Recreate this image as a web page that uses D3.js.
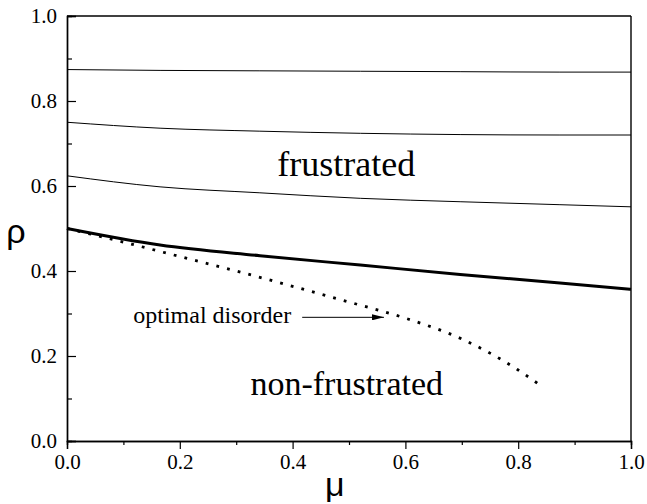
<!DOCTYPE html>
<html>
<head>
<meta charset="utf-8">
<script src="https://cdn.jsdelivr.net/npm/d3@7"></script>
<style>
  body { margin: 0; background: #fff; }
  text { font-family: "Liberation Serif", "Times New Roman", serif; fill: #000; }
</style>
</head>
<body>
<div id="chart-area"></div>
<script>
// Data
const muGrid = [0, 0.165, 0.342, 0.52, 0.697, 0.874, 1.0];
const line875 = [0.874, 0.872, 0.871, 0.870, 0.869, 0.868, 0.868];
const line750 = [0.750, 0.736, 0.729, 0.724, 0.721, 0.720, 0.720];
const line625 = [0.624, 0.598, 0.584, 0.571, 0.563, 0.556, 0.551];
const boundary = [0.500, 0.461, 0.436, 0.414, 0.392, 0.372, 0.357];

const disorderMu = [0, 0.1, 0.2, 0.3, 0.4, 0.5, 0.6, 0.7, 0.8, 0.835];
const disorderRho = [0.500, 0.468, 0.434, 0.400, 0.364, 0.327, 0.289, 0.240, 0.167, 0.135];

const majorTicks = [0, 0.2, 0.4, 0.6, 0.8, 1.0];
const minorTicks = [0.1, 0.3, 0.5, 0.7, 0.9];

const arrowFrom = [0.417, 0.291];
const arrowTo = [0.562, 0.291];

const drawChart = () => {
  // Constants
  let width = 647;
  let height = 504;
  let margin = { left: 67, right: 16, top: 16, bottom: 63 };

  let x = d3.scaleLinear().domain([0, 1]).range([margin.left, width - margin.right]);
  let y = d3.scaleLinear().domain([0, 1]).range([height - margin.bottom, margin.top]);

  let svg = d3.select("#chart-area")
    .append("svg")
      .attr("width", width)
      .attr("height", height);

  // arrow head
  svg.append("defs").append("marker")
      .attr("id", "head")
      .attr("viewBox", "0 0 12 6")
      .attr("refX", 12)
      .attr("refY", 3)
      .attr("markerWidth", 12)
      .attr("markerHeight", 6)
      .attr("markerUnits", "userSpaceOnUse")
      .attr("orient", "auto")
    .append("path")
      .attr("d", "M0,0 L12,3 L0,6 Z")
      .attr("fill", "#000");

  // Axes
  let fmt = d3.format(".1f");
  let axes = svg.append("g")
    .attr("font-family", "'Liberation Serif', serif")
    .attr("font-size", 21);

  axes.append("g")
    .attr("transform", `translate(0, ${y(0)})`)
    .call(d3.axisBottom(x).tickValues(majorTicks).tickFormat(fmt).tickSize(8).tickPadding(5));
  axes.append("g")
    .attr("transform", `translate(0, ${y(0)})`)
    .call(d3.axisBottom(x).tickValues(minorTicks).tickFormat("").tickSize(4));

  axes.append("g")
    .attr("transform", `translate(${x(0)}, 0)`)
    .call(d3.axisLeft(y).tickValues(majorTicks).tickFormat(fmt).tickSize(-9).tickPadding(10));
  axes.append("g")
    .attr("transform", `translate(${x(0)}, 0)`)
    .call(d3.axisLeft(y).tickValues(minorTicks).tickFormat("").tickSize(-5));

  axes.selectAll("g").attr("font-family", null).attr("font-size", null);
  axes.selectAll(".domain").attr("stroke", "#000").attr("stroke-width", 1.4);
  axes.selectAll(".tick line").attr("stroke", "#000").attr("stroke-width", 1.2);
  axes.selectAll(".tick text").attr("fill", "#000");

  // top and right frame
  svg.append("line")
    .attr("x1", x(0)).attr("x2", x(1)).attr("y1", y(1)).attr("y2", y(1))
    .attr("stroke", "#000").attr("stroke-width", 1.4);
  svg.append("line")
    .attr("x1", x(1)).attr("x2", x(1)).attr("y1", y(0)).attr("y2", y(1))
    .attr("stroke", "#000").attr("stroke-width", 1.4);

  // Curves
  let line = d3.line()
    .x((d) => x(d[0]))
    .y((d) => y(d[1]))
    .curve(d3.curveMonotoneX);

  let thin = [line875, line750, line625];
  thin.forEach((vals) => {
    svg.append("path")
      .attr("d", line(d3.zip(muGrid, vals)))
      .attr("fill", "none")
      .attr("stroke", "#000")
      .attr("stroke-width", 1);
  });

  svg.append("path")
    .attr("d", line(d3.zip(muGrid, boundary)))
    .attr("fill", "none")
    .attr("stroke", "#000")
    .attr("stroke-width", 3);

  svg.append("path")
    .attr("d", line(d3.zip(disorderMu, disorderRho)))
    .attr("fill", "none")
    .attr("stroke", "#000")
    .attr("stroke-width", 2.8)
    .attr("stroke-dasharray", "2.8,8.2");

  // Annotations
  svg.append("line")
    .attr("x1", x(arrowFrom[0])).attr("y1", y(arrowFrom[1]))
    .attr("x2", x(arrowTo[0])).attr("y2", y(arrowTo[1]))
    .attr("stroke", "#000")
    .attr("stroke-width", 1)
    .attr("marker-end", "url(#head)");

  svg.append("text")
    .attr("x", x(arrowFrom[0]) - 11)
    .attr("y", y(arrowFrom[1]) + 6)
    .attr("text-anchor", "end")
    .style("font-size", "24px")
    .text("optimal disorder");

  svg.append("text")
    .attr("x", x(0.495))
    .attr("y", y(0.625) + 1)
    .attr("text-anchor", "middle")
    .style("font-size", "36px")
    .text("frustrated");

  svg.append("text")
    .attr("x", x(0.496))
    .attr("y", y(0.108))
    .attr("text-anchor", "middle")
    .style("font-size", "34px")
    .text("non-frustrated");

  // Axis titles
  svg.append("text")
    .attr("x", 16)
    .attr("y", 243)
    .attr("text-anchor", "middle")
    .style("font-family", "'Liberation Sans', Arial, sans-serif")
    .style("font-size", "34px")
    .text("ρ");

  svg.append("text")
    .attr("x", x(0.475))
    .attr("y", 496)
    .attr("text-anchor", "middle")
    .style("font-family", "'Liberation Sans', Arial, sans-serif")
    .style("font-size", "34px")
    .text("μ");
};

drawChart();
</script>
</body>
</html>
